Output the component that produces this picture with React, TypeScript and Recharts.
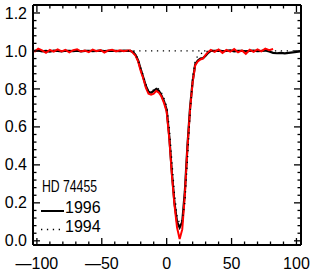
import React from "react";
import { LineChart, Line, XAxis, YAxis, ReferenceLine } from "recharts";

// Velocity grid (km/s)
const velocity = [
  -102, -99, -96, -93, -90, -87, -84, -81, -78, -75, -72, -69, -66, -63, -60, -57, -54, -51, -48, -45, -42, -39, -36, -33, -30,
  -28, -26, -24, -22, -20, -18, -16, -14, -12, -10, -8, -6, -4, -2, 0, 2, 4, 6, 8, 10, 12, 14, 16, 18, 20, 22, 24, 26, 28, 30, 32, 34,
  37, 40, 43, 46, 49, 52, 55, 58, 61, 64, 67, 70, 73, 76, 79, 82, 85, 88, 91, 94, 97, 100, 103,
];

// 1996 profile (black solid)
const flux1996 = [
  1.0, 1.003, 0.998, 1.0, 0.997, 1.002, 1.0, 0.998, 1.001, 1.0, 0.999, 1.002, 0.998, 1.0, 1.001, 0.999, 1.0, 1.002, 0.999, 1.0, 1.001, 1.0, 0.999, 1.002, 1.0,
  1.0, 0.995, 0.98, 0.95, 0.905, 0.86, 0.815, 0.785, 0.78, 0.79, 0.8, 0.79, 0.765, 0.735, 0.69, 0.55, 0.36, 0.2, 0.1, 0.07, 0.1, 0.26, 0.5, 0.7, 0.84, 0.93, 0.95, 0.96, 0.962, 0.975, 0.99, 1.0,
  1.0, 1.002, 0.999, 1.0, 1.003, 0.998, 1.0, 1.001, 0.998, 1.0, 1.002, 0.999, 1.0, 1.003, 0.997, 0.99, 0.988, 0.99, 0.987, 0.99, 0.992, 0.995, 0.997,
];

// Red profile (unlabelled)
const fluxRed = [
  0.995, 1.012, 1.003, 0.99, 1.005, 0.996, 1.008, 0.998, 1.006, 0.993, 1.004, 1.009, 0.997, 1.002, 0.994, 1.007, 0.999, 1.005, 0.992, 1.003, 1.006, 0.997, 1.004, 0.998, 1.003,
  1.003, 0.99, 0.975, 0.945, 0.895, 0.855, 0.805, 0.775, 0.77, 0.775, 0.79, 0.78, 0.76, 0.725, 0.68, 0.54, 0.35, 0.19, 0.07, 0.01, 0.06, 0.24, 0.49, 0.69, 0.835, 0.925, 0.945, 0.955, 0.96, 0.98, 0.995, 1.005,
  0.995, 1.008, 0.99, 1.005, 0.996, 1.01, 0.993, 1.003, 0.985, 1.006, 0.995, 1.008, 0.998, 1.012, 1.004, 1.01, null, null, null, null, null, null, null,
];

// 1994 profile (dotted)
const flux1994 = [
  null, null, null, null, null, null, null, null, null, null, null, null, null, null, null, null, null, null, null, null, null, null, null, null, 1.0,
  1.0, 1.0, 0.985, 0.955, 0.91, 0.87, 0.825, 0.79, 0.785, 0.795, 0.805, 0.8, 0.78, 0.75, 0.71, 0.6, 0.42, 0.25, 0.13, 0.09, 0.11, 0.2, 0.42, 0.66, 0.86, 0.95, 0.975, 0.985, 0.99, 0.995, 1.0, 1.0,
  1.0, null, null, null, null, null, null, null, null, null, null, null, null, null, null, null, null, null, null, null, null, null, null,
];

const X_MAJOR = [-100, -50, 0, 50, 100];
const X_LABELS = ["\u2014100", "\u201450", "0", "50", "100"];
const X_TICKS = [-100, -90, -80, -70, -60, -50, -40, -30, -20, -10, 0, 10, 20, 30, 40, 50, 60, 70, 80, 90, 100];
const Y_MAJOR = [0, 0.2, 0.4, 0.6, 0.8, 1.0, 1.2];
const Y_LABELS = ["0.0", "0.2", "0.4", "0.6", "0.8", "1.0", "1.2"];
const Y_TICKS = [
  0, 0.04, 0.08, 0.12, 0.16, 0.2, 0.24, 0.28, 0.32, 0.36, 0.4, 0.44, 0.48, 0.52, 0.56, 0.6,
  0.64, 0.68, 0.72, 0.76, 0.8, 0.84, 0.88, 0.92, 0.96, 1.0, 1.04, 1.08, 1.12, 1.16, 1.2, 1.24,
];
const LEGEND_TITLE = "HD 74455";
const LEGEND_1996 = "1996";
const LEGEND_1994 = "1994";

const data = velocity.map((v, i) => ({
  v,
  f96: flux1996[i],
  fr: fluxRed[i],
  f94: flux1994[i],
}));

const W = 311;
const H = 273;
const PL = 33;
const PR = 301;
const PT = 5;
const PB = 245;
const FONT = "'Liberation Sans', Arial, Helvetica, sans-serif";
const MAJ = 7;
const MIN = 3.5;
const DOTS = "1.3 4.6";

const majIdx = (arr: number[], v: number) => arr.findIndex((m) => Math.abs(m - v) < 1e-6);

const BottomTick = (props: any) => {
  const { x, payload } = props;
  const i = majIdx(X_MAJOR, payload.value);
  return (
    <g>
      <line x1={x} x2={x} y1={PB} y2={PB - (i >= 0 ? MAJ : MIN)} stroke="#000" strokeWidth={1.3} />
      {i >= 0 && (
        <text x={x} y={263} dy="0.35em" textAnchor="middle" fontSize={16} fontFamily={FONT} fill="#000">
          {X_LABELS[i]}
        </text>
      )}
    </g>
  );
};

const TopTick = (props: any) => {
  const { x, payload } = props;
  const i = majIdx(X_MAJOR, payload.value);
  return <line x1={x} x2={x} y1={PT} y2={PT + (i >= 0 ? MAJ : MIN)} stroke="#000" strokeWidth={1.3} />;
};

const LeftTick = (props: any) => {
  const { y, payload } = props;
  const i = majIdx(Y_MAJOR, payload.value);
  return (
    <g>
      <line x1={PL} x2={PL + (i >= 0 ? MAJ : MIN)} y1={y} y2={y} stroke="#000" strokeWidth={1.3} />
      {i >= 0 && (
        <text x={27} y={y} dy="0.35em" textAnchor="end" fontSize={16} fontFamily={FONT} fill="#000">
          {Y_LABELS[i]}
        </text>
      )}
    </g>
  );
};

const RightTick = (props: any) => {
  const { y, payload } = props;
  const i = majIdx(Y_MAJOR, payload.value);
  return <line x1={PR} x2={PR - (i >= 0 ? MAJ : MIN)} y1={y} y2={y} stroke="#000" strokeWidth={1.3} />;
};

export default function App() {
  return (
    <div style={{ position: "absolute", left: 0, top: 0, width: W, height: H, background: "#fff" }}>
      <LineChart width={W} height={H} data={data} margin={{ top: 0, right: 0, bottom: 0, left: 0 }}>
        <XAxis
          xAxisId="b"
          dataKey="v"
          type="number"
          domain={[-103, 103.5]}
          allowDataOverflow
          ticks={X_TICKS}
          interval={0}
          height={28}
          orientation="bottom"
          tickLine={false}
          tick={<BottomTick />}
          axisLine={{ stroke: "#000", strokeWidth: 2 }}
        />
        <XAxis
          xAxisId="t"
          dataKey="v"
          type="number"
          domain={[-103, 103.5]}
          allowDataOverflow
          ticks={X_TICKS}
          interval={0}
          height={5}
          orientation="top"
          tickLine={false}
          tick={<TopTick />}
          axisLine={{ stroke: "#000", strokeWidth: 2 }}
        />
        <YAxis
          yAxisId="l"
          type="number"
          domain={[-0.022, 1.242]}
          allowDataOverflow
          ticks={Y_TICKS}
          interval={0}
          width={33}
          orientation="left"
          tickLine={false}
          tick={<LeftTick />}
          axisLine={{ stroke: "#000", strokeWidth: 2 }}
        />
        <YAxis
          yAxisId="r"
          type="number"
          domain={[-0.022, 1.242]}
          allowDataOverflow
          ticks={Y_TICKS}
          interval={0}
          width={10}
          orientation="right"
          tickLine={false}
          tick={<RightTick />}
          axisLine={{ stroke: "#000", strokeWidth: 2 }}
        />
        <ReferenceLine xAxisId="b" yAxisId="l" y={1} stroke="#000" strokeWidth={1.3} strokeDasharray={DOTS} />
        <Line
          xAxisId="b"
          yAxisId="l"
          dataKey="f96"
          type="linear"
          stroke="#000"
          strokeWidth={2.2}
          dot={false}
          isAnimationActive={false}
        />
        <Line
          xAxisId="b"
          yAxisId="l"
          dataKey="fr"
          type="linear"
          stroke="#ff0000"
          strokeWidth={2}
          dot={false}
          isAnimationActive={false}
        />
        <Line
          xAxisId="b"
          yAxisId="l"
          dataKey="f94"
          type="linear"
          stroke="#000"
          strokeWidth={1.3}
          strokeDasharray={DOTS}
          dot={false}
          isAnimationActive={false}
        />
      </LineChart>
      <svg
        width={W}
        height={H}
        style={{ position: "absolute", left: 0, top: 0, pointerEvents: "none" }}
      >
        <text x={42} y={191.5} fontSize={16} fontFamily={FONT} fill="#000" textLength={55} lengthAdjust="spacingAndGlyphs">
          {LEGEND_TITLE}
        </text>
        <line x1={41} x2={64} y1={211} y2={211} stroke="#000" strokeWidth={2} />
        <text x={65} y={213} fontSize={16} fontFamily={FONT} fill="#000">
          {LEGEND_1996}
        </text>
        <line x1={41} x2={63} y1={229.5} y2={229.5} stroke="#000" strokeWidth={1.3} strokeDasharray={DOTS} />
        <text x={65} y={231.5} fontSize={16} fontFamily={FONT} fill="#000">
          {LEGEND_1994}
        </text>
      </svg>
    </div>
  );
}
